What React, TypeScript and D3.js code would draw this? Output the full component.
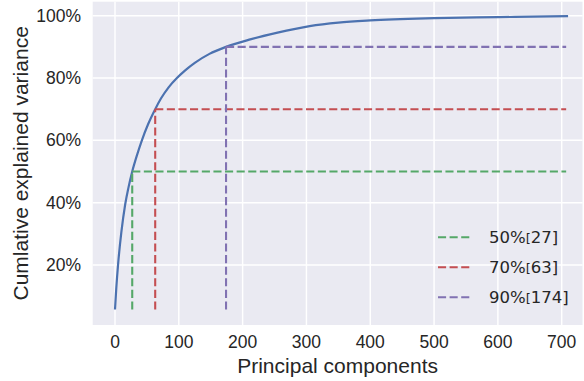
import React from "react";
import * as d3 from "d3";

// cumulative explained variance
const components = [0, 2, 5, 10, 16, 21, 27, 35, 42, 52, 63, 72, 84, 97, 110, 125, 148, 174, 212, 253, 305, 350, 400, 500, 600, 710];
const cumVariance = [
  0.057, 0.125, 0.206, 0.306, 0.395, 0.4475, 0.5, 0.556, 0.5994, 0.6524, 0.7, 0.7342, 0.7702, 0.8, 0.8247, 0.8487,
  0.8775, 0.9, 0.9239, 0.9448, 0.9666, 0.9779, 0.9849, 0.9919, 0.9954, 0.9987,
];

const thresholds = [0.5, 0.7, 0.9];
const thresholdComponents = [27, 63, 174];
const thresholdLabels = ["50%", "70%", "90%"];
const thresholdColors = ["#55A868", "#C44E52", "#8172B2"];
const hlineEnd = 707;

const xTicks = [0, 100, 200, 300, 400, 500, 600, 700];
const yTicks = [0.2, 0.4, 0.6, 0.8, 1.0];

const W = 584;
const H = 381;
const PLOT = { left: 92.7, right: 582.5, top: 1.7, bottom: 325 };

const TEXT = "#262626";
const FONT = "'Liberation Sans', Arial, sans-serif";

export default function App() {
  const x = d3.scaleLinear().domain([0, 700]).range([115, 561.7]);
  const y = d3.scaleLinear().domain([0, 1]).range([327.3, 15.7]);

  const pts: [number, number][] = components.map((c, i) => [c, cumVariance[i]]);
  const line = d3
    .line<[number, number]>()
    .x(d => x(d[0]))
    .y(d => y(d[1]))
    .curve(d3.curveMonotoneX);

  const yMin = cumVariance[0];
  const dash = "8.1,3.5";

  return (
    <svg width={W} height={H} style={{ position: "absolute", left: 0, top: 0 }}>
      <defs>
        <clipPath id="plot-clip">
          <rect x={PLOT.left} y={PLOT.top} width={PLOT.right - PLOT.left} height={PLOT.bottom - PLOT.top} />
        </clipPath>
      </defs>
      <rect width={W} height={H} fill="#fff" />
      <rect
        x={PLOT.left}
        y={PLOT.top}
        width={PLOT.right - PLOT.left}
        height={PLOT.bottom - PLOT.top}
        fill="#EAEAF2"
      />
      <g stroke="#fff" strokeWidth={1.45}>
        {xTicks.map(t => (
          <line key={"gx" + t} x1={x(t)} x2={x(t)} y1={PLOT.top} y2={PLOT.bottom} />
        ))}
        {yTicks.map(t => (
          <line key={"gy" + t} x1={PLOT.left} x2={PLOT.right} y1={y(t)} y2={y(t)} />
        ))}
      </g>

      <g clipPath="url(#plot-clip)">
        <path d={line(pts) || ""} fill="none" stroke="#4C72B0" strokeWidth={2.2} />
        {thresholds.map((t, i) => (
          <g key={"th" + i} stroke={thresholdColors[i]} strokeWidth={2.1} strokeDasharray={dash} fill="none">
            <line x1={x(thresholdComponents[i])} x2={x(hlineEnd)} y1={y(t)} y2={y(t)} />
            <line x1={x(thresholdComponents[i])} x2={x(thresholdComponents[i])} y1={y(yMin)} y2={y(t)} />
          </g>
        ))}
      </g>

      <g fontFamily={FONT} fontSize={17.5} fill={TEXT}>
        {xTicks.map(t => (
          <text key={"tx" + t} x={x(t)} y={348.3} textAnchor="middle">
            {t}
          </text>
        ))}
        {yTicks.map(t => (
          <text key={"ty" + t} x={81} y={y(t)} dy="0.35em" textAnchor="end">
            {d3.format(".0%")(t)}
          </text>
        ))}
      </g>

      <text
        x={(PLOT.left + PLOT.right) / 2}
        y={373}
        textAnchor="middle"
        fontFamily={FONT}
        fontSize={21}
        fill={TEXT}
      >
        Principal components
      </text>
      <text
        transform={`translate(27.5,${(PLOT.top + PLOT.bottom) / 2}) rotate(-90)`}
        textAnchor="middle"
        fontFamily={FONT}
        fontSize={21}
        fill={TEXT}
      >
        Cumlative explained variance
      </text>

      <g fontFamily="'DejaVu Sans', sans-serif" fontSize={16.5} fill={TEXT}>
        {thresholds.map((t, i) => {
          const ly = 237.3 + i * 30;
          return (
            <g key={"lg" + i}>
              <line
                x1={438}
                x2={471}
                y1={ly}
                y2={ly}
                stroke={thresholdColors[i]}
                strokeWidth={2.1}
                strokeDasharray={dash}
              />
              <text x={489} y={ly} dy="0.36em">
                {thresholdLabels[i]}
                <tspan fontSize={13}>[</tspan>
                {thresholdComponents[i] + "]"}
              </text>
            </g>
          );
        })}
      </g>
    </svg>
  );
}
